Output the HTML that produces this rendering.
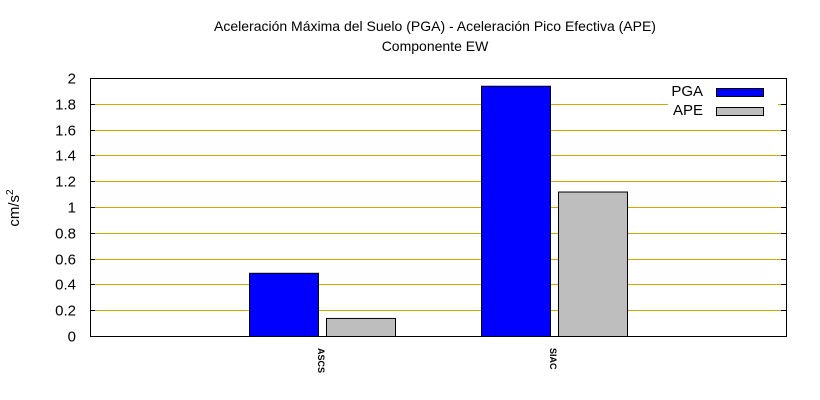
<!DOCTYPE html>
<html><head><meta charset="utf-8"><style>
html,body{margin:0;padding:0;background:#fff;}
svg{display:block;font-family:"Liberation Sans","DejaVu Sans",sans-serif;}
</style></head><body>
<svg id="chart" width="820" height="400" viewBox="0 0 820 400">
<text x="435" y="31" text-anchor="middle" font-size="14">Aceleración Máxima del Suelo (PGA) -  Aceleración Pico Efectiva (APE)</text>
<text x="435" y="51" text-anchor="middle" font-size="14">Componente EW</text>
<text transform="translate(19,208) rotate(-90)" text-anchor="middle" font-size="15">cm/s<tspan font-size="10" dy="-6">2</tspan></text>
<g id="grid"></g><g id="bars"></g><g id="axes"></g>
<g id="legend">
<rect x="668" y="82" width="110" height="36" fill="#fff"/>
<text x="703" y="96" text-anchor="end" font-size="15">PGA</text>
<rect x="716.5" y="88.5" width="47" height="8" fill="#0000ff" stroke="#000"/>
<text x="703" y="115" text-anchor="end" font-size="15">APE</text>
<rect x="716.5" y="107.5" width="47" height="8" fill="#bebebe" stroke="#000"/>
</g>
</svg>
<script>
const categories = ["ASCS", "SIAC"];
const pgaValues = [0.49, 1.94];
const apeValues = [0.14, 1.12];
const yTicks = [0, 0.2, 0.4, 0.6, 0.8, 1, 1.2, 1.4, 1.6, 1.8, 2];
const yTickLabels = ["0", "0.2", "0.4", "0.6", "0.8", "1", "1.2", "1.4", "1.6", "1.8", "2"];

const NS = "http://www.w3.org/2000/svg";
const L = 90, R = 786, T = 78, B = 336, yMax = 2;
function y(v){ return B - (B - T) * v / yMax; }
function x(i){ return L + (R - L) * (i + 1) / (categories.length + 1); }
function mk(tag, attrs, parent){ const e = document.createElementNS(NS, tag); for (const k in attrs) e.setAttribute(k, attrs[k]); parent.appendChild(e); return e; }
const grid = document.getElementById('grid'), bars = document.getElementById('bars'), axes = document.getElementById('axes');
yTicks.forEach((t, i) => {
  const yy = Math.round(y(t)) + 0.5;
  if (t > 0 && t < yMax) {
    const g = mk('line', {x1: L, x2: R, y1: yy, y2: yy, stroke: '#e0a000', 'stroke-width': 1}, grid);
    
    
  }
  const tl = mk('line', {x1: L, x2: L + 5, y1: yy, y2: yy, stroke: '#000'}, axes);
  
  
  const tr = mk('line', {x1: R - 5, x2: R, y1: yy, y2: yy, stroke: '#000'}, axes);
  
  
  const lb = mk('text', {x: 76, y: yy + 5, 'text-anchor': 'end', 'font-size': 15}, axes);
  lb.textContent = yTickLabels[i];
  
  
});
const bw = 69, gap = 8;
categories.forEach((c, i) => {
  const cx = x(i);
  const v1 = pgaValues[i], v2 = apeValues[i];
  const b1 = mk('rect', {x: cx - gap/2 - bw + 0.5, y: y(v1) + 0.5, width: bw, height: B - y(v1), fill: '#0000ff', stroke: '#000'}, bars);
  
  
  const b2 = mk('rect', {x: cx + gap/2 + 0.5, y: y(v2) + 0.5, width: bw, height: B - y(v2), fill: '#bebebe', stroke: '#000'}, bars);
  
  
  const t = mk('text', {transform: 'translate(' + (cx - 4) + ',348) rotate(90)', 'font-size': 9, 'font-weight': 'bold'}, axes);
  t.textContent = c;
  
  
});
const fr = mk('rect', {x: L + 0.5, y: T + 0.5, width: R - L, height: B - T, fill: 'none', stroke: '#000'}, axes);


</script>
</body></html>
